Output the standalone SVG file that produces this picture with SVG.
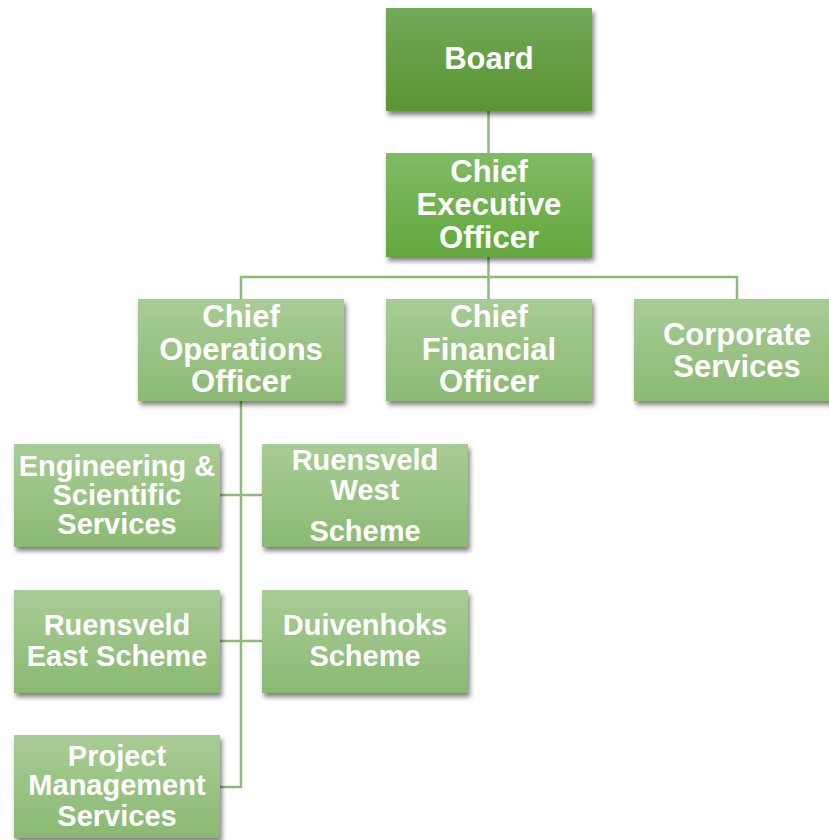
<svg xmlns="http://www.w3.org/2000/svg" width="829" height="840" viewBox="0 0 829 840">
  <defs>
    <linearGradient id="gBoard" x1="0" y1="0" x2="0" y2="1">
      <stop offset="0" stop-color="#72a85a"/>
      <stop offset="1" stop-color="#5a9531"/>
    </linearGradient>
    <linearGradient id="gCeo" x1="0" y1="0" x2="0" y2="1">
      <stop offset="0" stop-color="#80ba66"/>
      <stop offset="1" stop-color="#63a83c"/>
    </linearGradient>
    <linearGradient id="gLight" x1="0" y1="0" x2="0" y2="1">
      <stop offset="0" stop-color="#a8cc96"/>
      <stop offset="1" stop-color="#8bb972"/>
    </linearGradient>
    <filter id="shadow" x="-10%" y="-10%" width="125%" height="130%">
      <feDropShadow dx="2" dy="4" stdDeviation="2.5" flood-color="#000" flood-opacity="0.5"/>
    </filter>
  </defs>
  <style>
    .box { filter: url(#shadow); }
    .lt { fill: url(#gLight); }
    text { font-family: "Liberation Sans", Arial, sans-serif; font-weight: bold; fill: #ffffff; text-anchor: middle; }
    .t31 { font-size: 31px; }
    .t29 { font-size: 29px; }
    .conn { fill: none; stroke: #8dbb78; stroke-width: 2.5; }
  </style>

  <rect width="829" height="840" fill="#ffffff"/>

  <!-- connectors -->
  <g id="connectors">
    <path class="conn" d="M488.5 111 V153" stroke="#78ab5f"/>
    <path class="conn" d="M488.5 257 V277 M241 299 V277 H737 V299 M488.5 277 V299"/>
    <path class="conn" d="M241 401 V787 H220"/>
    <path class="conn" d="M220 495 H262"/>
    <path class="conn" d="M220 641 H262"/>
  </g>

  <g id="board">
    <rect class="box" x="386" y="8" width="206" height="103" fill="url(#gBoard)"/>
    <text class="t31" x="489" y="69">Board</text>
  </g>

  <g id="ceo">
    <rect class="box" x="386" y="153" width="206" height="104" fill="url(#gCeo)"/>
    <text class="t31" x="489" y="182">Chief</text>
    <text class="t31" x="489" y="215">Executive</text>
    <text class="t31" x="489" y="248">Officer</text>
  </g>

  <g id="coo">
    <rect class="box lt" x="138" y="299" width="206" height="102"/>
    <text class="t31" x="241" y="327">Chief</text>
    <text class="t31" x="241" y="360">Operations</text>
    <text class="t31" x="241" y="392">Officer</text>
  </g>

  <g id="cfo">
    <rect class="box lt" x="386" y="299" width="206" height="102"/>
    <text class="t31" x="489" y="327">Chief</text>
    <text class="t31" x="489" y="360">Financial</text>
    <text class="t31" x="489" y="392">Officer</text>
  </g>

  <g id="corporate">
    <rect class="box lt" x="634" y="299" width="206" height="102"/>
    <text class="t31" x="737" y="345">Corporate</text>
    <text class="t31" x="737" y="377">Services</text>
  </g>

  <g id="engineering">
    <rect class="box lt" x="14" y="444" width="206" height="103"/>
    <text class="t29" x="117" y="476">Engineering &amp;</text>
    <text class="t29" x="117" y="505">Scientific</text>
    <text class="t29" x="117" y="534">Services</text>
  </g>

  <g id="ruensveld-west">
    <rect class="box lt" x="262" y="444" width="206" height="103"/>
    <text class="t29" x="365" y="470">Ruensveld</text>
    <text class="t29" x="365" y="500">West</text>
    <text class="t29" x="365" y="541">Scheme</text>
  </g>

  <g id="ruensveld-east">
    <rect class="box lt" x="14" y="590" width="206" height="103"/>
    <text class="t29" x="117" y="635">Ruensveld</text>
    <text class="t29" x="117" y="666">East Scheme</text>
  </g>

  <g id="duivenhoks">
    <rect class="box lt" x="262" y="590" width="206" height="103"/>
    <text class="t29" x="365" y="635">Duivenhoks</text>
    <text class="t29" x="365" y="666">Scheme</text>
  </g>

  <g id="project-management">
    <rect class="box lt" x="14" y="735" width="206" height="103"/>
    <text class="t29" x="117" y="766">Project</text>
    <text class="t29" x="117" y="795">Management</text>
    <text class="t29" x="117" y="826">Services</text>
  </g>
</svg>
